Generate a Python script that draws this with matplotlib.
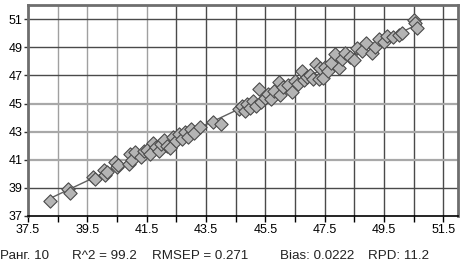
"""Measured vs predicted scatter with validation statistics."""

import matplotlib

matplotlib.use("Agg")
import matplotlib.pyplot as plt
import numpy as np

measured = [
    38.25, 38.85, 38.9, 39.7, 39.75, 40.05, 40.1, 40.15, 40.45, 40.5,
    40.55, 40.9, 40.95, 41.0, 41.1, 41.3, 41.4, 41.5, 41.6, 41.7,
    41.8, 41.9, 42.0, 42.1, 42.2, 42.3, 42.4, 42.5, 42.6, 42.7,
    42.8, 42.9, 43.0, 43.1, 43.3, 43.75, 44.0, 44.6, 44.7, 44.8,
    44.9, 45.0, 45.1, 45.2, 45.3, 45.35, 45.5, 45.6, 45.7, 45.8,
    45.95, 46.0, 46.1, 46.25, 46.4, 46.5, 46.6, 46.75, 46.8, 46.9,
    47.0, 47.1, 47.2, 47.3, 47.35, 47.45, 47.5, 47.6, 47.7, 47.85,
    48.0, 48.1, 48.2, 48.35, 48.5, 48.6, 48.75, 48.9, 49.1, 49.2,
    49.35, 49.5, 49.6, 49.8, 50.0, 50.1, 50.5, 50.55, 50.6,
]
predicted = [
    38.1, 38.9, 38.65, 39.75, 39.6, 40.3, 39.9, 40.15, 40.85, 40.45,
    40.6, 40.7, 41.4, 41.0, 41.55, 41.2, 41.6, 41.7, 41.4, 42.2,
    41.9, 41.6, 42.1, 42.4, 42.0, 41.85, 42.6, 42.3, 42.8, 42.5,
    43.0, 42.6, 43.2, 42.9, 43.3, 43.65, 43.55, 44.6, 44.8, 44.5,
    45.0, 44.7, 45.2, 44.8, 46.0, 45.1, 45.4, 45.7, 45.3, 45.9,
    46.5, 45.6, 46.2, 46.3, 45.8, 46.6, 46.4, 47.3, 46.7, 46.9,
    47.0, 46.75, 47.8, 46.75, 47.5, 46.8, 47.6, 47.3, 47.9, 48.5,
    47.55, 48.2, 48.6, 48.3, 48.1, 48.95, 48.7, 49.3, 48.6, 49.0,
    49.6, 49.4, 49.8, 49.7, 49.9, 50.0, 50.95, 50.7, 50.4,
]

x_labels = ["37.5", "39.5", "41.5", "43.5", "45.5", "47.5", "49.5", "51.5"]
y_labels = ["37", "39", "41", "43", "45", "47", "49", "51"]
stats = ["Ранг. 10", "R^2 = 99.2", "RMSEP = 0.271", "Bias: 0.0222", "RPD: 11.2"]

plt.rcParams["font.family"] = ["Liberation Sans", "DejaVu Sans"]

fig = plt.figure(figsize=(4.64, 2.62), dpi=100)
ax = fig.add_axes([0.0603, 0.1756, 0.927, 0.805])

x_major = np.array([float(s) for s in x_labels])
y_major = np.array([float(s) for s in y_labels])
x_minor = x_major[:-1] + 1.0

ax.set_xlim(37.5, 52.0)
ax.set_ylim(37.0, 52.0)
ax.set_xticks(x_major)
ax.set_xticklabels(x_labels)
ax.set_xticks(x_minor, minor=True)
ax.set_yticks(y_major)
ax.set_yticklabels(y_labels)

# grid lines: lighter towards the lower left, as in the source
for v in np.concatenate([x_major[1:], x_minor]):
    ax.axvline(v, color="#a0a0a0" if v <= 41.5 else "#4a4a4a", lw=1.0, zorder=0)
for v in y_major[1:]:
    light = 41 <= v <= 45
    ax.axhline(v, color="#a8a8a8" if light else "#4a4a4a",
               lw=1.6 if light else 1.0, zorder=0)

for side in ("left", "top", "right"):
    ax.spines[side].set_color("#6e6e6e")
    ax.spines[side].set_linewidth(2.0)
ax.spines["bottom"].set_color("black")
ax.spines["bottom"].set_linewidth(1.2)

ax.tick_params(axis="x", which="both", direction="out", length=4,
               width=1, color="black", labelsize=9, pad=2)
ax.tick_params(axis="y", direction="out", length=3, width=1,
               color="#333333", labelsize=9, pad=1)

# fit line through the data
coef = np.polyfit(measured, predicted, 1)
xs = np.array([min(measured), max(measured)])
ax.plot(xs, np.polyval(coef, xs), color="#606060", lw=1.0, zorder=2)

ax.scatter(measured, predicted, marker="D", s=46, facecolor="#b4b4b4",
           edgecolor="#4a4a4a", linewidth=0.8, zorder=3)

positions = [0.0, 0.155, 0.327, 0.603, 0.793]
for pos, text in zip(positions, stats):
    fig.text(pos, 0.012, text, fontsize=9.6, color="#222222", va="baseline")

fig.savefig("out.png", dpi=100)
